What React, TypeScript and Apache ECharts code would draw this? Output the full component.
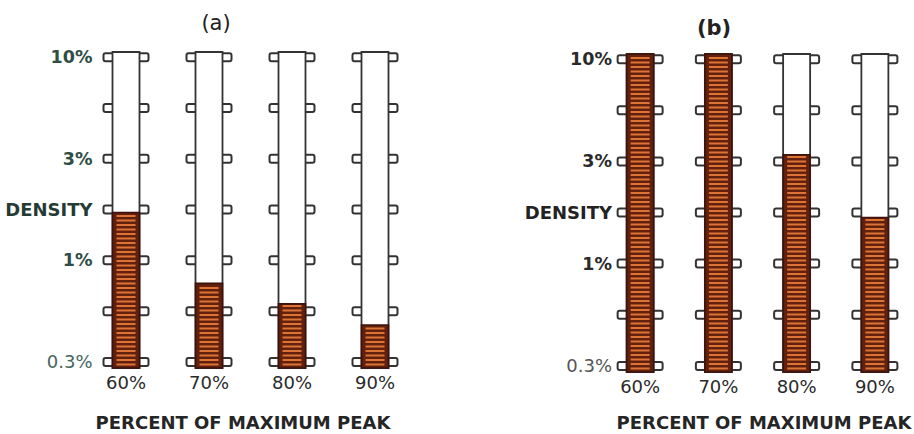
import React, { useEffect, useRef } from "react";
import * as echarts from "echarts";

// ---- data ----
const CATEGORIES = ["60%", "70%", "80%", "90%"];
// fill level of each tube, density in percent (log scale)
const DENSITY_A = [1.72, 0.77, 0.61, 0.48];
const DENSITY_B = [10.6, 10.6, 3.41, 1.68];
// tick rows on the tubes (percent) and their labels
const TICK_VALUES = [0.316, 0.562, 1, 1.78, 3.16, 5.62, 10];
const TICK_LABELS = ["0.3%", "", "1%", "DENSITY", "3%", "", "10%"];
const AXIS_MIN = 0.295;
const AXIS_MAX = 10.6;
const PANEL_TITLES = ["(a)", "(b)"];
const X_TITLE = "PERCENT OF MAXIMUM PEAK";

const L = (v: number) => Math.log10(v);
const TICK_LOG = TICK_VALUES.map(L);
const FONT = "DejaVu Sans";

function renderTube(params: any, api: any) {
  const idx = api.value(0);
  const val = api.value(1);
  const [cx, yTop] = api.coord([idx, L(AXIS_MAX)]);
  const yBot = api.coord([idx, L(AXIS_MIN)])[1];
  const yVal = api.coord([idx, val])[1];
  const w = 27;
  const x0 = cx - w / 2;
  const ink = "#333333";
  const children: any[] = [];
  TICK_LOG.forEach((t) => {
    const ty = api.coord([idx, t])[1];
    children.push({
      type: "rect",
      shape: { x: x0 - 9, y: ty - 4, width: 10, height: 8, r: 2 },
      style: { fill: "#fff", stroke: ink, lineWidth: 2 },
    });
    children.push({
      type: "rect",
      shape: { x: x0 + w - 1, y: ty - 4, width: 10, height: 8, r: 2 },
      style: { fill: "#fff", stroke: ink, lineWidth: 2 },
    });
  });
  children.push({
    type: "rect",
    shape: { x: x0, y: yTop, width: w, height: yBot - yTop },
    style: { fill: "#fff", stroke: ink, lineWidth: 1.8 },
  });
  children.push({
    type: "rect",
    shape: { x: x0, y: yVal, width: w, height: yBot - yVal },
    style: { fill: "#62200f", stroke: "#3e120c", lineWidth: 1.6 },
  });
  for (let y = yBot - 2.5; y > yVal + 2; y -= 4.5) {
    children.push({
      type: "rect",
      shape: { x: x0 + 4, y: y - 2, width: w - 8, height: 2 },
      style: { fill: "#de7434" },
    });
  }
  return { type: "group", children };
}

function yLabelFormatter(v: number) {
  let best = 0;
  TICK_LOG.forEach((t, i) => {
    if (Math.abs(t - v) < Math.abs(TICK_LOG[best] - v)) best = i;
  });
  const s = TICK_LABELS[best];
  if (!s) return "";
  if (s === "DENSITY") return "{d|" + s + "}";
  if (s === "0.3%") return "{s|" + s + "}";
  return "{n|" + s + "}";
}

export default function App() {
  const ref = useRef<HTMLDivElement>(null);
  useEffect(() => {
    if (!ref.current) return;
    const chart = echarts.init(ref.current, null, { renderer: "svg" });
    const grids = [
      { left: 84.5, top: 52, width: 332, height: 316 },
      { left: 601, top: 54, width: 334, height: 318 },
    ];
    const labelColors = [
      { n: "#2e4d45", d: "#263a34", s: "#456660" },
      { n: "#2a2a2a", d: "#222222", s: "#555555" },
    ];
    const yOffsets = [-8, -11];
    const option: any = {
      animation: false,
      grid: grids,
      xAxis: grids.map((_, i) => ({
        type: "category",
        gridIndex: i,
        data: CATEGORIES,
        axisLine: { show: false },
        axisTick: { show: false },
        axisLabel: {
          margin: 5,
          fontFamily: FONT,
          fontSize: 18,
          color: "#2a2a2a",
        },
      })),
      yAxis: grids.map((_, i) => ({
        type: "value",
        gridIndex: i,
        min: L(AXIS_MIN),
        max: L(AXIS_MAX),
        offset: yOffsets[i],
        splitLine: { show: false },
        axisLine: { show: false },
        axisTick: { show: false },
        axisLabel: {
          margin: 0,
          customValues: TICK_LOG,
          formatter: yLabelFormatter,
          rich: {
            n: { fontFamily: FONT, fontSize: 17.5, fontWeight: "bold", color: labelColors[i].n },
            s: { fontFamily: FONT, fontSize: 18, color: labelColors[i].s },
            d: { fontFamily: FONT, fontSize: 18, fontWeight: "bold", color: labelColors[i].d },
          },
        },
      })),
      series: [DENSITY_A, DENSITY_B].map((arr, i) => ({
        type: "custom",
        xAxisIndex: i,
        yAxisIndex: i,
        renderItem: renderTube,
        encode: { x: 0, y: 1 },
        data: arr.map((v, j) => [j, L(v)]),
        clip: false,
      })),
      graphic: [
        {
          type: "text",
          x: 216,
          y: 23,
          style: {
            text: PANEL_TITLES[0],
            textAlign: "center",
            textVerticalAlign: "middle",
            fontFamily: FONT,
            fontSize: 21,
            fill: "#222",
          },
        },
        {
          type: "text",
          x: 714,
          y: 28,
          style: {
            text: PANEL_TITLES[1],
            textAlign: "center",
            textVerticalAlign: "middle",
            fontFamily: FONT,
            fontSize: 21,
            fontWeight: "bold",
            fill: "#222",
          },
        },
        {
          type: "text",
          x: 243,
          y: 422,
          style: {
            text: X_TITLE,
            textAlign: "center",
            textVerticalAlign: "middle",
            fontFamily: FONT,
            fontSize: 18,
            fontWeight: "bold",
            fill: "#252525",
          },
        },
        {
          type: "text",
          x: 764,
          y: 422,
          style: {
            text: X_TITLE,
            textAlign: "center",
            textVerticalAlign: "middle",
            fontFamily: FONT,
            fontSize: 18,
            fontWeight: "bold",
            fill: "#252525",
          },
        },
      ],
    };
    chart.setOption(option);
    return () => chart.dispose();
  }, []);
  return (
    <div
      ref={ref}
      style={{ position: "fixed", left: 0, top: 0, width: 914, height: 434, background: "#fff" }}
    />
  );
}
